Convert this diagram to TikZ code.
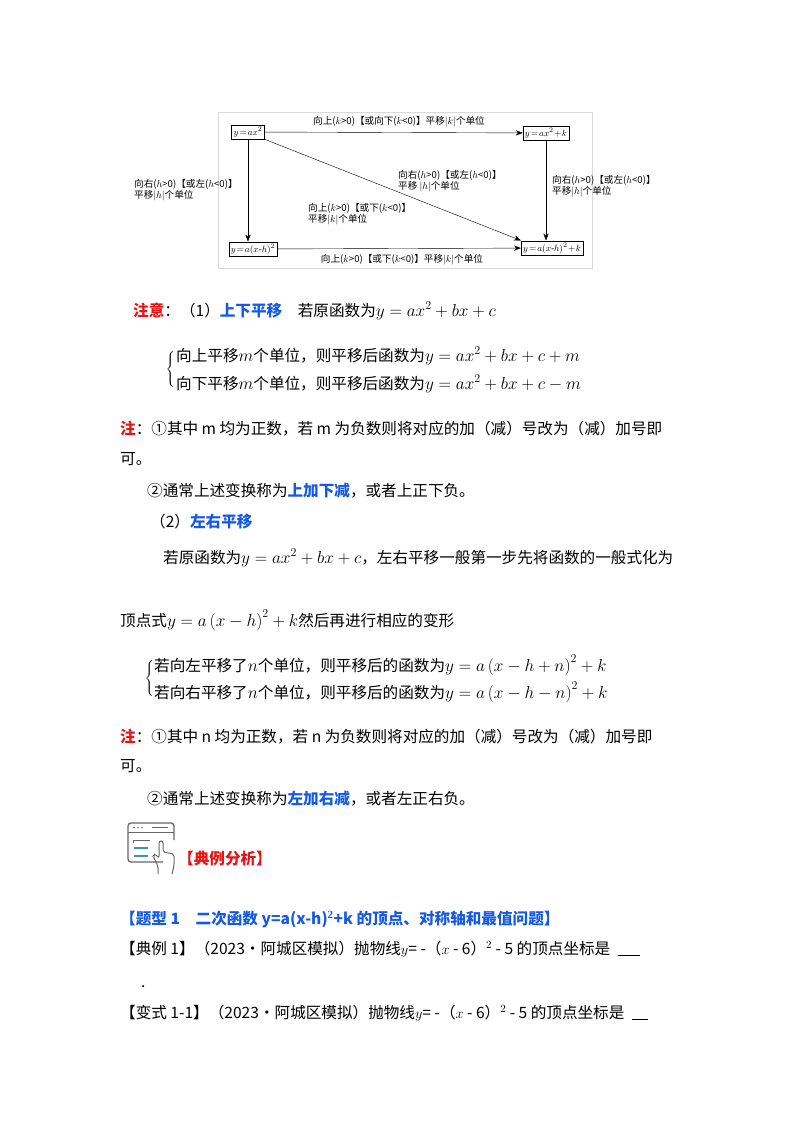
\documentclass[tikz,border=0pt]{standalone}
\usepackage{fontspec}
\setmainfont{Liberation Serif}
\newfontfamily\cjk{Noto Sans CJK SC}
\usetikzlibrary{arrows.meta}
\definecolor{myred}{RGB}{230,20,20}
\definecolor{myblue}{RGB}{20,90,230}
\definecolor{tt}{RGB}{60,150,170}
\newcommand\mymf[1]{{\fontsize{18}{20}\selectfont$#1$}}
\begin{document}
\begin{tikzpicture}[x=1pt,y=-1pt,
  t/.style={anchor=base west,inner sep=0,font=\cjk\fontsize{15.6}{18}\selectfont},
  s/.style={inner sep=0,font=\cjk\fontsize{9.6}{11.5}\selectfont,align=left},
  bx/.style={draw,inner sep=2pt,font=\fontsize{9.5}{11}\selectfont},
  ar/.style={-{Stealth[length=7pt]},thin}]
\useasboundingbox (0,0) rectangle (800,1132);
% diagram
\draw[gray!30,very thin] (218,112) rectangle (592,268);
\node[bx] (a) at (248,132) {$y\!=\!ax^2$};
\node[bx] (b) at (546,133) {$y\!=\!ax^2\!+\!k$};
\node[bx] (c) at (253,249) {$y\!=\!a(x\mbox{-}h)^2$};
\node[bx] (d) at (552,248) {$y\!=\!a(x\mbox{-}h)^2\!+\!k$};
\draw[ar] (a) -- (b);
\draw[ar] (a.south) -- (a.south |- c.north);
\draw[ar] (b.south) -- (b.south |- d.north);
\draw[ar] (c) -- (d);
\draw[ar] (a.south east) -- (d.north west);
\node[s] (l1) at (399,122) {向上($k$>0)【或向下($k$<0)】平移$|k|$个单位};
\node[s,anchor=west] (l2) at (398,181) {向右($h$>0)【或左($h$<0)】\\平移 $|h|$个单位};
\node[s,anchor=west] (l3) at (308,214) {向上($k$>0)【或下($k$<0)】\\平移$|k|$个单位};
\node[s,anchor=west] (l4) at (134,190) {向右($h$>0)【或左($h$<0)】\\平移$|h|$个单位};
\node[s,anchor=west] (l5) at (552,186) {向右($h$>0)【或左($h$<0)】\\平移$|h|$个单位};
\node[s] (l6) at (402,260) {向上($k$>0)【或下($k$<0)】平移$|k|$个单位};
% text
\node[t] (n1) at (133,316) {\textcolor{myred}{\bfseries 注意}：（1）\textcolor{myblue}{\bfseries 上下平移}\quad 若原函数为\mymf{y=ax^2+bx+c}};
\node[t] (n2) at (176,361) {向上平移\mymf{m}个单位，则平移后函数为\mymf{y=ax^2+bx+c+m}};
\node[t] (n3) at (176,389) {向下平移\mymf{m}个单位，则平移后函数为\mymf{y=ax^2+bx+c-m}};
\node[inner sep=0] (br1) at (171,369) {$\left\{\rule{0pt}{20pt}\right.$};
\node[t] (n4) at (120,434) {\textcolor{myred}{\bfseries 注}：①其中 m 均为正数，若 m 为负数则将对应的加（减）号改为（减）加号即};
\node[t] (n5) at (120,464) {可。};
\node[t] (n6) at (147,496) {②通常上述变换称为\textcolor{myblue}{\bfseries 上加下减}，或者上正下负。};
\node[t] (n7) at (150,527) {（2）\textcolor{myblue}{\bfseries 左右平移}};
\node[t] (n8) at (163,563) {若原函数为\mymf{y=ax^2+bx+c}，左右平移一般第一步先将函数的一般式化为};
\node[t] (n9) at (120,626) {顶点式\mymf{y=a\left(x-h\right)^2+k}然后再进行相应的变形};
\node[inner sep=0] (br2) at (150,678) {$\left\{\rule{0pt}{20pt}\right.$};
\node[t] (n10) at (154,671) {若向左平移了\mymf{n}个单位，则平移后的函数为\mymf{y=a\left(x-h+n\right)^2+k}};
\node[t] (n11) at (154,698) {若向右平移了\mymf{n}个单位，则平移后的函数为\mymf{y=a\left(x-h-n\right)^2+k}};
\node[t] (n12) at (120,742) {\textcolor{myred}{\bfseries 注}：①其中 n 均为正数，若 n 为负数则将对应的加（减）号改为（减）加号即};
\node[t] (n13) at (120,771) {可。};
\node[t] (n14) at (147,804) {②通常上述变换称为\textcolor{myblue}{\bfseries 左加右减}，或者左正右负。};
% icon
\draw[gray!80!black,line width=1.3pt,rounded corners=3pt] (163,862) -- (128,862) -- (128,823) -- (174,823) -- (174,840);
\draw[gray!80!black,line width=1pt] (128,832) -- (174,832);
\fill[gray!80!black] (134,827.5) circle (0.9) (138,827.5) circle (0.9) (142,827.5) circle (0.9);
\draw[gray!80!black,line width=1pt] (152,827.5) -- (168,827.5);
\draw[gray!80!black,line width=1pt] (133,843) -- (133,840) -- (150,840);
\draw[tt,line width=2pt] (134,848) -- (148,848) (134,856) -- (148,856);
\draw[gray!80!black,line width=1pt,rounded corners=2pt] (158,874) -- (158,866) -- (153,856) -- (155,854) -- (159,858) -- (159,841) -- (163,841) -- (163,852) -- (174,854) -- (174,866) -- (172,874);
\node[t,text=myred] (n15) at (178,864) {\bfseries【典例分析】};
\node[t,text=myblue] (n16) at (120,924) {\bfseries 【题型 1\quad 二次函数 y=a(x-h)$^{\mathbf 2}$+k 的顶点、对称轴和最值问题】};
\node[t] (n17) at (120,954) {【典例 1】（2023•阿城区模拟）抛物线$y$= -（$x$ - 6）$^2$ - 5 的顶点坐标是\enspace\underline{\hspace{22pt}}};
\node[t] (n18) at (141,987) {.};
\node[t] (n19) at (120,1018) {【变式 1-1】（2023•阿城区模拟）抛物线$y$= -（$x$ - 6）$^2$ - 5 的顶点坐标是\enspace\underline{\hspace{16pt}}};
\end{tikzpicture}
\end{document}
